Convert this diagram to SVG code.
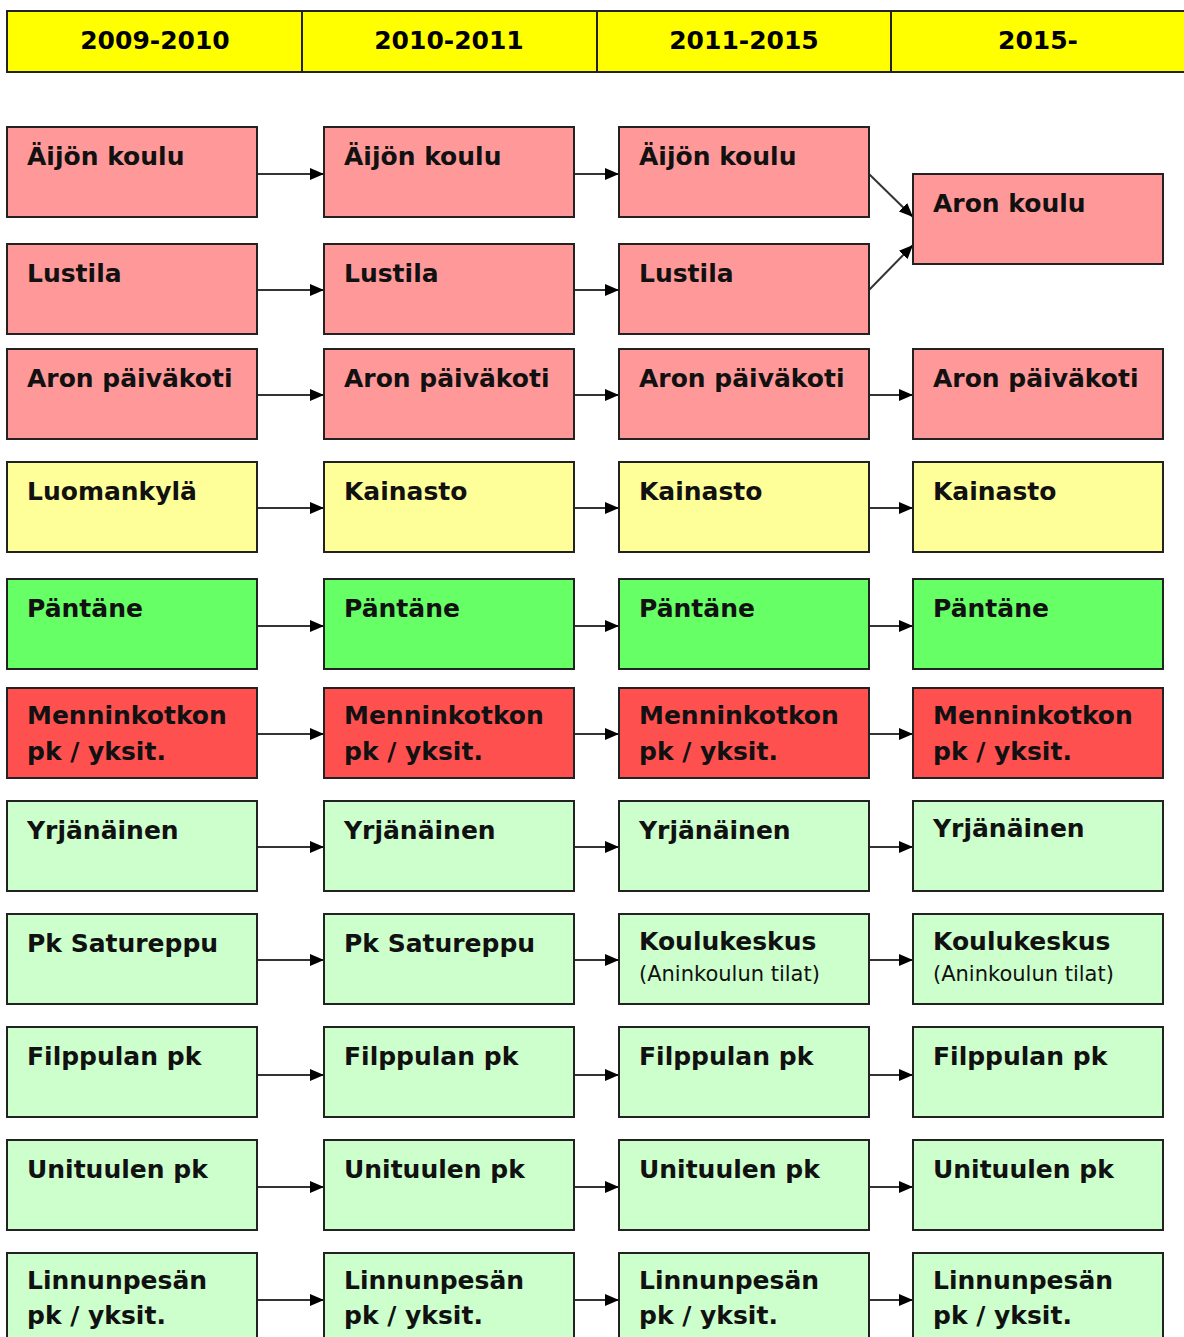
<svg xmlns="http://www.w3.org/2000/svg" width="1184" height="1337" viewBox="0 0 1184 1337">
<style>
.hd{fill:#FFFF00;stroke:#222;stroke-width:2}
.ht{font-family:"DejaVu Sans",Verdana,sans-serif;font-weight:bold;font-size:25px;fill:#000;text-anchor:middle}
.n rect{stroke:#222;stroke-width:2}
.t{font-family:"DejaVu Sans",Verdana,sans-serif;font-weight:bold;font-size:25px;fill:#111}
.s{font-family:"DejaVu Sans",Verdana,sans-serif;font-size:21px;fill:#111}
.pk{fill:#FF9999}.yl{fill:#FFFF99}.gr{fill:#66FF66}.rd{fill:#FF5050}.lg{fill:#CCFFCC}
.c line{stroke:#333;stroke-width:2;marker-end:url(#ah)}
</style>
<defs>
<marker id="ah" markerWidth="14" markerHeight="12" refX="14" refY="6" orient="auto" markerUnits="userSpaceOnUse">
<path d="M0,0 L14,6 L0,12 Z" fill="#000"/>
</marker>
</defs>
<rect width="1184" height="1337" fill="#fff"/>
<g id="header">
<rect class="hd" x="7" y="11" width="295" height="61"/>
<rect class="hd" x="302" y="11" width="295" height="61"/>
<rect class="hd" x="597" y="11" width="294" height="61"/>
<rect class="hd" x="891" y="11" width="300" height="61"/>
<text class="ht" x="155" y="49">2009-2010</text>
<text class="ht" x="449" y="49">2010-2011</text>
<text class="ht" x="744" y="49">2011-2015</text>
<text class="ht" x="1038" y="49">2015-</text>
</g>
<g class="c" id="connectors">
<line x1="257" y1="174" x2="324" y2="174"/><line x1="574" y1="174" x2="619" y2="174"/>
<line x1="869" y1="174" x2="913" y2="217"/>
<line x1="257" y1="290" x2="324" y2="290"/><line x1="574" y1="290" x2="619" y2="290"/>
<line x1="869" y1="290" x2="913" y2="245"/>
<line x1="257" y1="395" x2="324" y2="395"/><line x1="574" y1="395" x2="619" y2="395"/><line x1="869" y1="395" x2="913" y2="395"/>
<line x1="257" y1="508" x2="324" y2="508"/><line x1="574" y1="508" x2="619" y2="508"/><line x1="869" y1="508" x2="913" y2="508"/>
<line x1="257" y1="626" x2="324" y2="626"/><line x1="574" y1="626" x2="619" y2="626"/><line x1="869" y1="626" x2="913" y2="626"/>
<line x1="257" y1="734" x2="324" y2="734"/><line x1="574" y1="734" x2="619" y2="734"/><line x1="869" y1="734" x2="913" y2="734"/>
<line x1="257" y1="847" x2="324" y2="847"/><line x1="574" y1="847" x2="619" y2="847"/><line x1="869" y1="847" x2="913" y2="847"/>
<line x1="257" y1="960" x2="324" y2="960"/><line x1="574" y1="960" x2="619" y2="960"/><line x1="869" y1="960" x2="913" y2="960"/>
<line x1="257" y1="1075" x2="324" y2="1075"/><line x1="574" y1="1075" x2="619" y2="1075"/><line x1="869" y1="1075" x2="913" y2="1075"/>
<line x1="257" y1="1187" x2="324" y2="1187"/><line x1="574" y1="1187" x2="619" y2="1187"/><line x1="869" y1="1187" x2="913" y2="1187"/>
<line x1="257" y1="1300" x2="324" y2="1300"/><line x1="574" y1="1300" x2="619" y2="1300"/><line x1="869" y1="1300" x2="913" y2="1300"/>
</g>
<!-- Row 1 -->
<g class="n" id="n1a"><rect class="pk" x="7" y="127" width="250" height="90"/><text class="t" x="27" y="165">Äijön koulu</text></g>
<g class="n" id="n1b"><rect class="pk" x="324" y="127" width="250" height="90"/><text class="t" x="344" y="165">Äijön koulu</text></g>
<g class="n" id="n1c"><rect class="pk" x="619" y="127" width="250" height="90"/><text class="t" x="639" y="165">Äijön koulu</text></g>
<g class="n" id="n1d"><rect class="pk" x="913" y="174" width="250" height="90"/><text class="t" x="933" y="212">Aron koulu</text></g>
<!-- Row 2 -->
<g class="n" id="n2a"><rect class="pk" x="7" y="244" width="250" height="90"/><text class="t" x="27" y="282">Lustila</text></g>
<g class="n" id="n2b"><rect class="pk" x="324" y="244" width="250" height="90"/><text class="t" x="344" y="282">Lustila</text></g>
<g class="n" id="n2c"><rect class="pk" x="619" y="244" width="250" height="90"/><text class="t" x="639" y="282">Lustila</text></g>
<!-- Row 3 -->
<g class="n" id="n3a"><rect class="pk" x="7" y="349" width="250" height="90"/><text class="t" x="27" y="387">Aron päiväkoti</text></g>
<g class="n" id="n3b"><rect class="pk" x="324" y="349" width="250" height="90"/><text class="t" x="344" y="387">Aron päiväkoti</text></g>
<g class="n" id="n3c"><rect class="pk" x="619" y="349" width="250" height="90"/><text class="t" x="639" y="387">Aron päiväkoti</text></g>
<g class="n" id="n3d"><rect class="pk" x="913" y="349" width="250" height="90"/><text class="t" x="933" y="387">Aron päiväkoti</text></g>
<!-- Row 4 -->
<g class="n" id="n4a"><rect class="yl" x="7" y="462" width="250" height="90"/><text class="t" x="27" y="500">Luomankylä</text></g>
<g class="n" id="n4b"><rect class="yl" x="324" y="462" width="250" height="90"/><text class="t" x="344" y="500">Kainasto</text></g>
<g class="n" id="n4c"><rect class="yl" x="619" y="462" width="250" height="90"/><text class="t" x="639" y="500">Kainasto</text></g>
<g class="n" id="n4d"><rect class="yl" x="913" y="462" width="250" height="90"/><text class="t" x="933" y="500">Kainasto</text></g>
<!-- Row 5 -->
<g class="n" id="n5a"><rect class="gr" x="7" y="579" width="250" height="90"/><text class="t" x="27" y="617">Päntäne</text></g>
<g class="n" id="n5b"><rect class="gr" x="324" y="579" width="250" height="90"/><text class="t" x="344" y="617">Päntäne</text></g>
<g class="n" id="n5c"><rect class="gr" x="619" y="579" width="250" height="90"/><text class="t" x="639" y="617">Päntäne</text></g>
<g class="n" id="n5d"><rect class="gr" x="913" y="579" width="250" height="90"/><text class="t" x="933" y="617">Päntäne</text></g>
<!-- Row 6 -->
<g class="n" id="n6a"><rect class="rd" x="7" y="688" width="250" height="90"/><text class="t" x="27" y="724">Menninkotkon</text><text class="t" x="27" y="760">pk / yksit.</text></g>
<g class="n" id="n6b"><rect class="rd" x="324" y="688" width="250" height="90"/><text class="t" x="344" y="724">Menninkotkon</text><text class="t" x="344" y="760">pk / yksit.</text></g>
<g class="n" id="n6c"><rect class="rd" x="619" y="688" width="250" height="90"/><text class="t" x="639" y="724">Menninkotkon</text><text class="t" x="639" y="760">pk / yksit.</text></g>
<g class="n" id="n6d"><rect class="rd" x="913" y="688" width="250" height="90"/><text class="t" x="933" y="724">Menninkotkon</text><text class="t" x="933" y="760">pk / yksit.</text></g>
<!-- Row 7 -->
<g class="n" id="n7a"><rect class="lg" x="7" y="801" width="250" height="90"/><text class="t" x="27" y="839">Yrjänäinen</text></g>
<g class="n" id="n7b"><rect class="lg" x="324" y="801" width="250" height="90"/><text class="t" x="344" y="839">Yrjänäinen</text></g>
<g class="n" id="n7c"><rect class="lg" x="619" y="801" width="250" height="90"/><text class="t" x="639" y="839">Yrjänäinen</text></g>
<g class="n" id="n7d"><rect class="lg" x="913" y="801" width="250" height="90"/><text class="t" x="933" y="837">Yrjänäinen</text></g>
<!-- Row 8 -->
<g class="n" id="n8a"><rect class="lg" x="7" y="914" width="250" height="90"/><text class="t" x="27" y="952">Pk Satureppu</text></g>
<g class="n" id="n8b"><rect class="lg" x="324" y="914" width="250" height="90"/><text class="t" x="344" y="952">Pk Satureppu</text></g>
<g class="n" id="n8c"><rect class="lg" x="619" y="914" width="250" height="90"/><text class="t" x="639" y="950">Koulukeskus</text><text class="s" x="639" y="981">(Aninkoulun tilat)</text></g>
<g class="n" id="n8d"><rect class="lg" x="913" y="914" width="250" height="90"/><text class="t" x="933" y="950">Koulukeskus</text><text class="s" x="933" y="981">(Aninkoulun tilat)</text></g>
<!-- Row 9 -->
<g class="n" id="n9a"><rect class="lg" x="7" y="1027" width="250" height="90"/><text class="t" x="27" y="1065">Filppulan pk</text></g>
<g class="n" id="n9b"><rect class="lg" x="324" y="1027" width="250" height="90"/><text class="t" x="344" y="1065">Filppulan pk</text></g>
<g class="n" id="n9c"><rect class="lg" x="619" y="1027" width="250" height="90"/><text class="t" x="639" y="1065">Filppulan pk</text></g>
<g class="n" id="n9d"><rect class="lg" x="913" y="1027" width="250" height="90"/><text class="t" x="933" y="1065">Filppulan pk</text></g>
<!-- Row 10 -->
<g class="n" id="n10a"><rect class="lg" x="7" y="1140" width="250" height="90"/><text class="t" x="27" y="1178">Unituulen pk</text></g>
<g class="n" id="n10b"><rect class="lg" x="324" y="1140" width="250" height="90"/><text class="t" x="344" y="1178">Unituulen pk</text></g>
<g class="n" id="n10c"><rect class="lg" x="619" y="1140" width="250" height="90"/><text class="t" x="639" y="1178">Unituulen pk</text></g>
<g class="n" id="n10d"><rect class="lg" x="913" y="1140" width="250" height="90"/><text class="t" x="933" y="1178">Unituulen pk</text></g>
<!-- Row 11 -->
<g class="n" id="n11a"><rect class="lg" x="7" y="1253" width="250" height="95"/><text class="t" x="27" y="1289">Linnunpesän</text><text class="t" x="27" y="1324">pk / yksit.</text></g>
<g class="n" id="n11b"><rect class="lg" x="324" y="1253" width="250" height="95"/><text class="t" x="344" y="1289">Linnunpesän</text><text class="t" x="344" y="1324">pk / yksit.</text></g>
<g class="n" id="n11c"><rect class="lg" x="619" y="1253" width="250" height="95"/><text class="t" x="639" y="1289">Linnunpesän</text><text class="t" x="639" y="1324">pk / yksit.</text></g>
<g class="n" id="n11d"><rect class="lg" x="913" y="1253" width="250" height="95"/><text class="t" x="933" y="1289">Linnunpesän</text><text class="t" x="933" y="1324">pk / yksit.</text></g>
</svg>
